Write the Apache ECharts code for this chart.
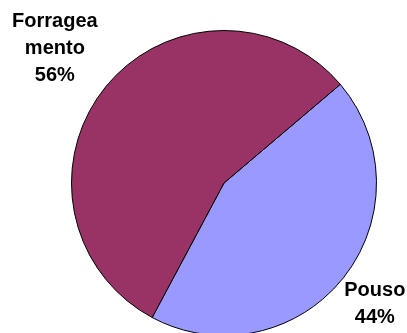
<!DOCTYPE html>
<html>
<head>
<meta charset="utf-8">
<script src="https://cdn.jsdelivr.net/npm/echarts@6/dist/echarts.min.js"></script>
<style>
html,body{margin:0;padding:0;background:#fff;}
#chart{width:407px;height:333px;}
</style>
</head>
<body>
<div id="chart"></div>
<script>
var categories = ['Pouso', 'Forrageamento'];
var labelTexts = ['Pouso', 'Forragea\nmento'];
var values = [44, 56];
var colors = ['#9999FF', '#993366'];
var lineLengths = [40, 61];
var lineLengths2 = [-4, -2];

var data = categories.map(function (c, i) {
  return {
    name: c,
    value: values[i],
    itemStyle: { color: colors[i] },
    label: { formatter: labelTexts[i] + '\n{d}%' },
    labelLine: { length: lineLengths[i], length2: lineLengths2[i] }
  };
});

var chart = echarts.init(document.getElementById('chart'), null, { renderer: 'canvas' });
chart.setOption({
  animation: false,
  backgroundColor: '#ffffff',
  series: [{
    type: 'pie',
    center: [224, 183],
    radius: [0, 152.5],
    startAngle: 40.3,
    clockwise: true,
    avoidLabelOverlap: false,
    percentPrecision: 0,
    itemStyle: { borderColor: '#000000', borderWidth: 1 },
    label: {
      show: true,
      position: 'outside',
      color: '#000000',
      fontFamily: '"Liberation Sans", Arial, sans-serif',
      fontWeight: 'bold',
      fontSize: 20,
      lineHeight: 27,
      distanceToLabelLine: 5
    },
    labelLine: { show: false },
    labelLayout: function () { return { align: 'center', verticalAlign: 'middle' }; },
    emphasis: { disabled: true },
    data: data
  }]
});
</script>
</body>
</html>
